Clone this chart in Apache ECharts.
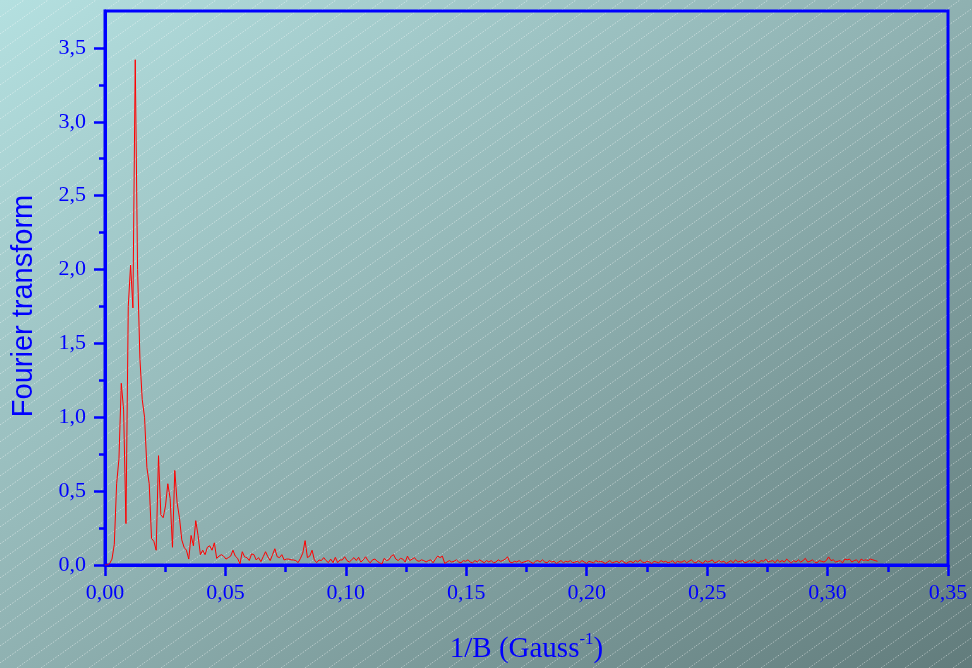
<!DOCTYPE html>
<html>
<head>
<meta charset="utf-8">
<script src="https://cdn.jsdelivr.net/npm/echarts@6/dist/echarts.min.js"></script>
<style>
html,body{margin:0;padding:0;}
#chart{width:972px;height:668px;}
</style>
</head>
<body>
<div id="chart"></div>
<script>
// ---- data ----
const X_STEP = 0.000966; // uniform 1/B sampling step of the transform
const fourierValues = [
  0, 0, 0.01, 0.04, 0.14, 0.55, 0.72, 1.23, 1.05, 0.28,
  1.75, 2.03, 1.74, 3.42, 2.0, 1.40, 1.12, 1.00, 0.66, 0.55,
  0.18, 0.16, 0.10, 0.74, 0.34, 0.32, 0.40, 0.55, 0.45, 0.12,
  0.64, 0.42, 0.32, 0.17, 0.12, 0.10, 0.04, 0.20, 0.13, 0.30,
  0.20, 0.07, 0.10, 0.07, 0.12, 0.13, 0.10, 0.15, 0.045, 0.06,
  0.07, 0.06, 0.04, 0.05, 0.06, 0.10, 0.06, 0.045, 0.007, 0.09,
  0.055, 0.05, 0.03, 0.075, 0.07, 0.034, 0.05, 0.023, 0.056, 0.09,
  0.056, 0.03, 0.07, 0.11, 0.056, 0.05, 0.07, 0.034, 0.04, 0.04,
  0.035, 0.034, 0.03, 0.016, 0.045, 0.08, 0.165, 0.05, 0.06, 0.10,
  0.034, 0.016, 0.034, 0.03, 0.05, 0.03, 0.016, 0.04, 0.016, 0.052,
  0.016, 0.034, 0.034, 0.056, 0.03, 0.02, 0.035, 0.05, 0.03, 0.052,
  0.02, 0.035, 0.056, 0.03, 0.015, 0.035, 0.04, 0.025, 0.015, 0.007,
  0.045, 0.03, 0.035, 0.06, 0.07, 0.04, 0.03, 0.045, 0.04, 0.02,
  0.06, 0.03, 0.04, 0.05, 0.03, 0.025, 0.035, 0.03, 0.02, 0.03,
  0.035, 0.015, 0.04, 0.06, 0.05, 0.06, 0.011, 0.02,
  0.03, 0.02, 0.025, 0.035, 0.02, 0.015, 0.03, 0.025, 0.035, 0.02,
  0.015, 0.03, 0.02, 0.035, 0.025, 0.015, 0.03, 0.02, 0.03, 0.015,
  0.02, 0.035, 0.025, 0.03, 0.04, 0.055, 0.02, 0.015, 0.025, 0.02,
  0.03, 0.015, 0.02, 0.025, 0.03, 0.02, 0.01, 0.025, 0.03, 0.02,
  0.035, 0.02, 0.015, 0.03, 0.02, 0.025, 0.01, 0.02, 0.03, 0.015,
  0.025, 0.02, 0.03, 0.015, 0.02, 0.025, 0.015, 0.03, 0.02, 0.01,
  0.025, 0.02, 0.015, 0.03, 0.02, 0.025, 0.02, 0.01, 0.02, 0.03,
  0.015, 0.02, 0.025, 0.015, 0.03, 0.02, 0.01, 0.02, 0.025, 0.015,
  0.03, 0.02, 0.035, 0.02, 0.015, 0.025, 0.02, 0.01, 0.025, 0.02,
  0.015, 0.03, 0.02, 0.025, 0.015, 0.02, 0.03, 0.01, 0.025, 0.02,
  0.02, 0.03, 0.015, 0.025, 0.035, 0.02, 0.015, 0.03, 0.02, 0.01,
  0.03, 0.02, 0.025, 0.035, 0.015, 0.02, 0.03, 0.02, 0.025, 0.01,
  0.02, 0.03, 0.015, 0.035, 0.02, 0.025, 0.03, 0.015, 0.02, 0.03,
  0.02, 0.035, 0.02, 0.015, 0.03, 0.025, 0.04, 0.02, 0.025, 0.03,
  0.015, 0.035, 0.02, 0.03, 0.02, 0.04, 0.025, 0.015, 0.03, 0.02,
  0.035, 0.02, 0.03, 0.045, 0.02, 0.025, 0.035, 0.02, 0.015, 0.03,
  0.025, 0.02, 0.03, 0.055, 0.03, 0.035, 0.02, 0.025, 0.03, 0.015,
  0.04, 0.035, 0.04, 0.02, 0.03, 0.035, 0.015, 0.04, 0.03, 0.035,
  0.03, 0.04, 0.035, 0.03, 0.025
];
const X_MIN = 0, X_MAX = 0.35, X_INTERVAL = 0.05;
const Y_MIN = 0, Y_MAX = 3.75;
const Y_MAJOR_MAX = 3.5, Y_MAJOR_INTERVAL = 0.5;   // labelled ticks 0,0 … 3,5
const Y_MINOR_MAX = 3.25, Y_MINOR_INTERVAL = 0.25; // short ticks up to 3,25
const xTitle = '1/B (Gauss{sup|-1})';
const yTitle = 'Fourier transform';

// ---- background (gradient + dashed diagonal hatch) ----
const tile = document.createElement('canvas');
tile.width = 24; tile.height = 17;
const tc = tile.getContext('2d');
tc.strokeStyle = 'rgba(255,255,255,0.45)';
tc.lineWidth = 1;
tc.setLineDash([1.5, 1.5]);
tc.beginPath(); tc.moveTo(0, 17); tc.lineTo(24, 0); tc.stroke();
const el = document.getElementById('chart');
el.style.background = 'url(' + tile.toDataURL() + ') repeat, linear-gradient(to bottom right, #b4e0e0 0%, #8fb1b1 50%, #627c7c 100%)';

const BLUE = '#0000ff';
const chart = echarts.init(el, null, {renderer: 'canvas'});
const seriesData = fourierValues.map((v, i) => [i * X_STEP, v]);

// layout of the plot frame
const L = 105, R = 24, T = 11, B = 103;
const plotH = 668 - T - B;
const topFor = v => T + plotH * (Y_MAX - v) / (Y_MAX - Y_MIN);

const hiddenX = idx => ({type: 'value', gridIndex: idx, min: X_MIN, max: X_MAX, show: false});

chart.setOption({
  animation: false,
  backgroundColor: 'transparent',
  grid: [
    {left: L, right: R, top: T, bottom: B, outerBoundsMode: 'none', containLabel: false,
     show: true, borderColor: BLUE, borderWidth: 3, backgroundColor: 'transparent'},
    {left: L, right: R, top: topFor(Y_MAJOR_MAX), bottom: B, outerBoundsMode: 'none', containLabel: false},
    {left: L, right: R, top: topFor(Y_MINOR_MAX), bottom: B, outerBoundsMode: 'none', containLabel: false}
  ],
  xAxis: [{
    type: 'value', gridIndex: 0, min: X_MIN, max: X_MAX, interval: X_INTERVAL,
    axisLine: {lineStyle: {color: BLUE, width: 3}},
    axisTick: {show: true, inside: false, length: 11, lineStyle: {color: BLUE, width: 2.5}},
    minorTick: {show: true, splitNumber: 2, length: 7, lineStyle: {color: BLUE, width: 2.5}},
    splitLine: {show: false},
    axisLabel: {color: BLUE, fontFamily: 'Liberation Serif', fontSize: 22, margin: 17,
      formatter: v => v.toFixed(2).replace('.', ',')},
    name: xTitle, nameLocation: 'middle', nameGap: 66,
    nameTextStyle: {color: BLUE, fontFamily: 'Liberation Serif', fontSize: 29,
      rich: {sup: {fontFamily: 'Liberation Serif', fontSize: 17, color: BLUE, verticalAlign: 'top', padding: [0, 0, 20, 0]}}}
  }, hiddenX(1), hiddenX(2)],
  yAxis: [{
    type: 'value', gridIndex: 0, min: Y_MIN, max: Y_MAX,
    axisLine: {lineStyle: {color: BLUE, width: 3}},
    axisTick: {show: false}, axisLabel: {show: false}, splitLine: {show: false}
  }, {
    type: 'value', gridIndex: 1, min: Y_MIN, max: Y_MAJOR_MAX, interval: Y_MAJOR_INTERVAL,
    axisLine: {show: false},
    axisTick: {show: true, inside: false, length: 11, lineStyle: {color: BLUE, width: 2.5}},
    splitLine: {show: false},
    axisLabel: {color: BLUE, fontFamily: 'Liberation Serif', fontSize: 22, margin: 19,
      formatter: v => v.toFixed(1).replace('.', ',')}
  }, {
    type: 'value', gridIndex: 2, min: Y_MIN, max: Y_MINOR_MAX, interval: Y_MINOR_INTERVAL,
    axisLine: {show: false},
    axisTick: {show: true, inside: false, length: 6, lineStyle: {color: BLUE, width: 2.5}},
    axisLabel: {show: false}, splitLine: {show: false}
  }],
  graphic: [{
    type: 'text', x: 24, y: 306, rotation: Math.PI / 2,
    style: {text: yTitle, fill: BLUE, font: '29px "Liberation Sans"', align: 'center', verticalAlign: 'middle'}
  }],
  series: [{
    type: 'line', data: seriesData, showSymbol: false, symbol: 'none',
    xAxisIndex: 0, yAxisIndex: 0,
    lineStyle: {color: '#ff0000', width: 1}
  }]
});
</script>
</body>
</html>
